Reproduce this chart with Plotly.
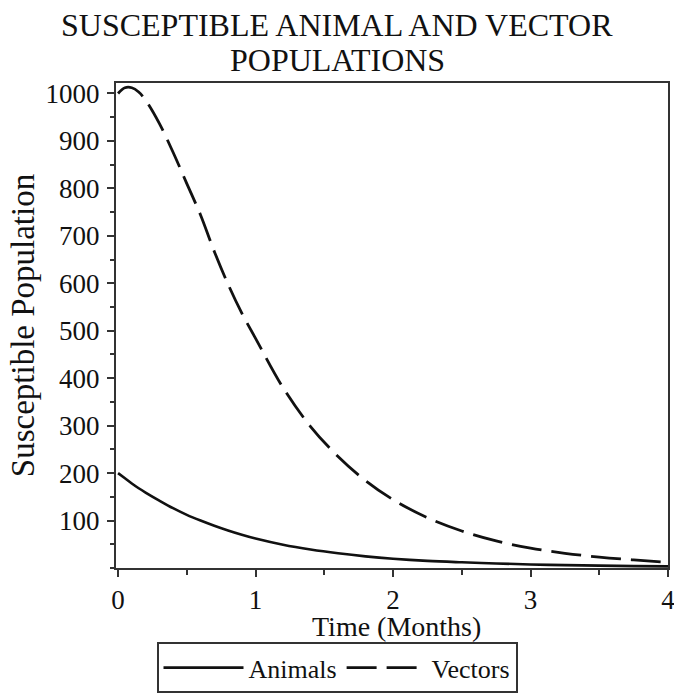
import plotly.graph_objects as go

time_months = [0, 0.05, 0.1, 0.15, 0.2, 0.3, 0.4, 0.5, 0.6, 0.7, 0.8, 0.9, 1.0,
               1.2, 1.4, 1.6, 1.8, 2.0, 2.25, 2.5, 2.75, 3.0, 3.25, 3.5, 3.75, 4.0]
animals = [200, 189, 178, 168, 159, 142, 126, 112, 100, 89, 79, 70, 62,
           49, 39, 31, 24.5, 19.5, 15, 12, 9.5, 7.5, 6, 5, 4, 3.5]
vectors = [1000, 1012, 1012, 1003, 986, 937, 876, 810, 744, 667, 598, 537, 484,
           380, 298, 235, 184, 144, 106, 78, 57, 42, 31, 23, 17, 12]

y_ticks = [100, 200, 300, 400, 500, 600, 700, 800, 900, 1000]
x_ticks = [0, 1, 2, 3, 4]

FONT = "Liberation Serif"
INK = "#111111"

fig = go.Figure()
fig.add_trace(go.Scatter(x=time_months, y=animals, mode="lines", name="Animals",
                         line=dict(color=INK, width=2.6, shape="spline")))
fig.add_trace(go.Scatter(x=time_months, y=vectors, mode="lines", name="Vectors",
                         line=dict(color=INK, width=2.8, shape="spline",
                                   dash="30px,10px")))

axis_common = dict(showgrid=False, zeroline=False, showline=True, mirror=True,
                   linecolor="#333333", linewidth=2, ticks="outside",
                   tickcolor="#333333", tickwidth=1.5, ticklen=7,
                   ticklabeloverflow="allow",
                   tickfont=dict(family=FONT, size=27, color=INK))

PLOT_W, PLOT_H = 552, 485
x_mid = 0.5 - (116 - 6) / 2 / PLOT_W

fig.update_layout(
    width=674, height=696,
    paper_bgcolor="white", plot_bgcolor="white",
    margin=dict(l=116, r=6, t=83, b=128, autoexpand=False),
    xaxis=dict(range=[-0.015, 4.0], tickvals=x_ticks,
               minor=dict(dtick=0.5, ticks="outside", ticklen=5, tickcolor="#333333"),
               **axis_common),
    yaxis=dict(range=[0, 1022], tickvals=y_ticks, ticklabelstandoff=2,
               title=dict(text="Susceptible Population", standoff=1,
                          font=dict(family=FONT, size=33, color=INK)),
               minor=dict(dtick=50, ticks="outside", ticklen=4, tickcolor="#333333"),
               **axis_common),
    showlegend=True,
    legend=dict(orientation="h", x=0.5, xref="container", xanchor="center",
                y=0.004, yref="container", yanchor="bottom",
                bordercolor="#333333", borderwidth=2, itemwidth=80,
                font=dict(family=FONT, size=26, color=INK),
                bgcolor="white"),
    annotations=[
        dict(text="SUSCEPTIBLE ANIMAL AND VECTOR", xref="paper", yref="paper",
             x=x_mid, y=1 + (83 - 25) / PLOT_H,
             xanchor="center", yanchor="middle", showarrow=False,
             font=dict(family=FONT, size=32, color=INK)),
        dict(text="POPULATIONS", xref="paper", yref="paper",
             x=x_mid, y=1 + (83 - 60) / PLOT_H,
             xanchor="center", yanchor="middle", showarrow=False,
             font=dict(family=FONT, size=32, color=INK)),
        dict(text="Time (Months)", xref="paper", yref="paper",
             x=0.5 + 4 / PLOT_W, y=-(626 - 568) / PLOT_H,
             xanchor="center", yanchor="middle", showarrow=False,
             font=dict(family=FONT, size=28, color=INK)),
    ],
)

fig.write_html("out.html", config={"displayModeBar": False},
               post_script="document.body.style.margin='0';document.body.style.overflow='hidden';")
